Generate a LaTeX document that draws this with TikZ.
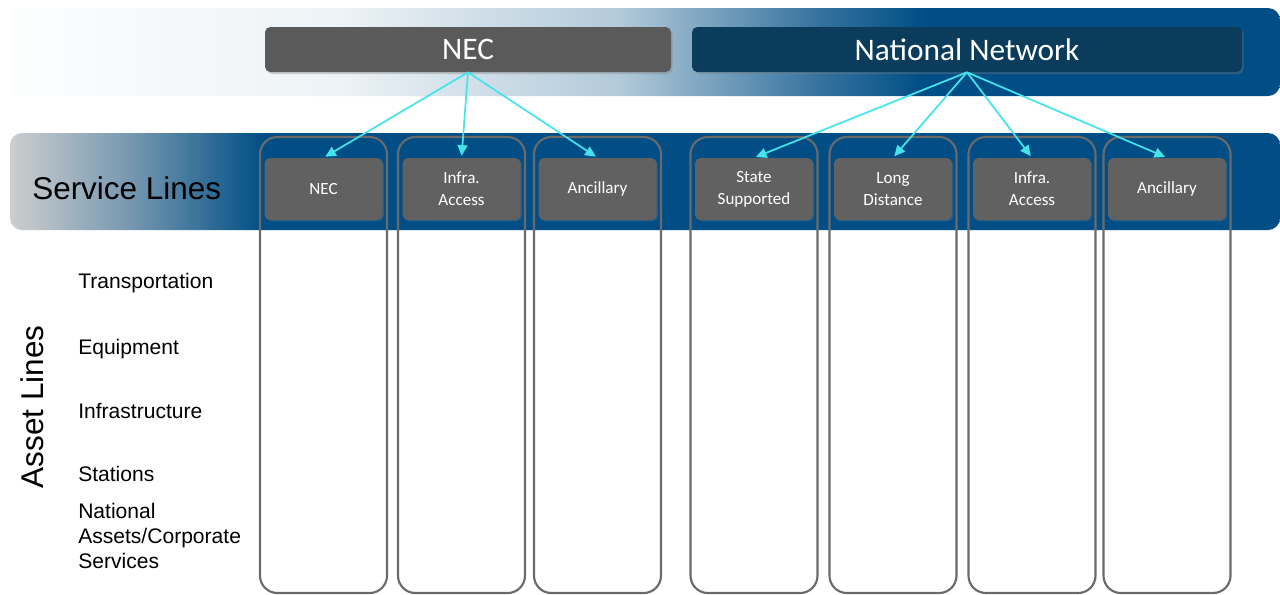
\documentclass[tikz,border=0pt]{standalone}
\usepackage{fontspec}
\setmainfont{Liberation Sans}
\newfontfamily\calfont{Carlito}
\usetikzlibrary{arrows.meta,shadows}
\definecolor{bandblue}{HTML}{004E85}
\definecolor{bandgray}{HTML}{CDCECF}
\definecolor{boxgray}{HTML}{5A5A5A}
\definecolor{slgray}{HTML}{616161}
\definecolor{navy}{HTML}{0B3C5B}
\definecolor{colline}{HTML}{6A6A6A}
\definecolor{link}{HTML}{45E3EC}
% fades for the two bands (25bp..75bp = left..right edge of the path)
\pgfdeclarehorizontalshading{topfade}{100bp}{color(0bp)=(bandblue!1); color(25bp)=(bandblue!1);
  color(38bp)=(bandblue!7); color(49bp)=(bandblue!30); color(57bp)=(bandblue!80);
  color(61bp)=(bandblue); color(100bp)=(bandblue)}
\pgfdeclarehorizontalshading{sidefade}{100bp}{color(0bp)=(bandgray); color(25bp)=(bandgray);
  color(30bp)=(bandblue!45!bandgray); color(35bp)=(bandblue); color(100bp)=(bandblue)}

\begin{document}
\begin{tikzpicture}[x=0.75pt,y=-0.75pt,
  hd/.style={rounded corners=4pt,minimum height=33.75pt,text=white,
             font=\calfont\fontsize{23.5}{28}\selectfont,
             drop shadow={opacity=0.35,shadow xshift=1.2pt,shadow yshift=-1.5pt}},
  sl/.style={fill=slgray,rounded corners=4pt,minimum width=88.5pt,minimum height=46.5pt,
             align=center,text=white,font=\calfont\fontsize{12.8}{16.5}\selectfont,
             drop shadow={opacity=0.3,shadow xshift=1pt,shadow yshift=-1pt}},
  col/.style={draw=colline,line width=1.6pt,rounded corners=13pt},
  fl/.style={-{Triangle[length=8pt,width=7.5pt]},link,line width=1.3pt,shorten >=1.5pt},
  asset/.style={anchor=base west,inner sep=0pt,align=left,
                font=\fontsize{15.8}{18.75}\selectfont}
]
  \useasboundingbox (0,0) rectangle (1280,594);

  % bands
  \shade[shading=topfade,rounded corners=9pt] (10,8) rectangle (1280,96);
  \shade[shading=sidefade,rounded corners=9pt] (10,133) rectangle (1280,230);

  % columns
  \foreach \cx in {323.5,461.5,597.5,754,893,1032,1167}
    \draw[col] (\cx-63.5,137) rectangle (\cx+63.5,593);

  % business lines
  \node[hd,fill=boxgray,minimum width=304.5pt] (nec) at (468,49.5) {NEC};
  \node[hd,fill=navy,minimum width=412.5pt] (nn) at (967,49.5) {National Network};

  % service lines
  \node[sl] (necsl)   at (323.5,189) {NEC};
  \node[sl] (necinfra) at (461.5,189) {Infra.\\Access};
  \node[sl] (necanc)  at (597.5,189) {Ancillary};
  \node[sl] (state)   at (754,189)   {State\\Supported};
  \node[sl] (long)    at (893,189)   {Long\\Distance};
  \node[sl] (nninfra) at (1032,189)  {Infra.\\Access};
  \node[sl] (nnanc)   at (1167,189)  {Ancillary};

  \draw[fl] (nec.south) -- (necsl.north);
  \draw[fl] (nec.south) -- (necinfra.north);
  \draw[fl] (nec.south) -- (necanc.north);
  \draw[fl] (nn.south) -- (state.north);
  \draw[fl] (nn.south) -- (long.north);
  \draw[fl] (nn.south) -- (nninfra.north);
  \draw[fl] (nn.south) -- (nnanc.north);

  % row labels
  \node[anchor=west,inner sep=0pt,font=\fontsize{23.6}{28}\selectfont] (svc) at (32,188) {Service Lines};
  \node[anchor=base,rotate=90,inner sep=0pt,font=\fontsize{23.6}{28}\selectfont] (assets) at (43,407) {Asset Lines};
  \node[asset] (trans) at (78,288) {Transportation};
  \node[asset] (equip) at (78,354) {Equipment};
  \node[asset] (infra) at (78,418) {Infrastructure};
  \node[asset] (stat)  at (78,481) {Stations};
  \node[asset] (corp)  at (78,568) {National\\Assets/Corporate\\Services};
\end{tikzpicture}
\end{document}
